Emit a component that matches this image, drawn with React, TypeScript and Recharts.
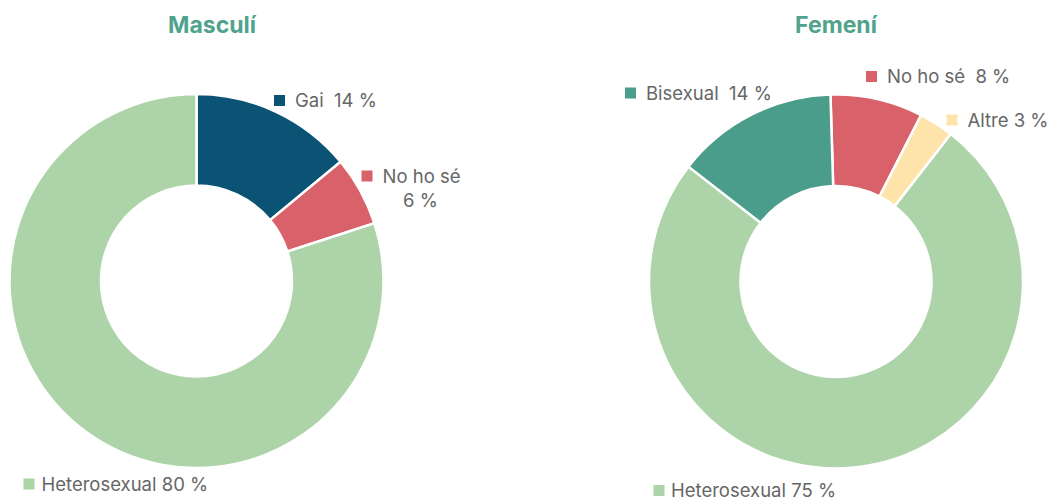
import { Cell, Pie, PieChart } from "recharts";

const MASC_CATEGORIES = ["Gai", "No ho sé", "Heterosexual"];
const MASC_VALUES = [14, 6, 80];

const FEM_CATEGORIES = ["No ho sé", "Altre", "Heterosexual", "Bisexual"];
const FEM_VALUES = [8, 3, 75, 14];

const COLORS: Record<string, string> = {
  Gai: "#0b5374",
  "No ho sé": "#d9626a",
  Heterosexual: "#acd4a8",
  Bisexual: "#4a9d8b",
  Altre: "#fee3aa",
};

const TITLE_COLOR = "#4fa38c";
const TEXT_COLOR = "#666666";
const FONT = "Inter, 'Noto Sans', sans-serif";

const W = 1053;
const H = 500;
const OUTER = 187;
const INNER = 95.5;

// where each label's marker sits, relative to the pie centre
type LabelSpot = { dx: number; dy: number; sep: string; gap: number; wrap?: boolean };
const MASC_LABELS: Record<string, LabelSpot> = {
  Gai: { dx: 77.5, dy: -186, sep: "  ", gap: 21 },
  "No ho sé": { dx: 165, dy: -110.5, sep: " ", gap: 21, wrap: true },
  Heterosexual: { dx: -173, dy: 197.5, sep: " ", gap: 18 },
};
const FEM_LABELS: Record<string, LabelSpot> = {
  "No ho sé": { dx: 30, dy: -210.5, sep: "  ", gap: 21 },
  Altre: { dx: 110.5, dy: -167, sep: " ", gap: 21 },
  Heterosexual: { dx: -182.5, dy: 203.5, sep: " ", gap: 17.5 },
  Bisexual: { dx: -211, dy: -194, sep: "  ", gap: 21 },
};

const toRows = (cats: string[], vals: number[]) => cats.map((name, i) => ({ name, value: vals[i] }));

function makeLabel(spots: Record<string, LabelSpot>) {
  return (props: any) => {
    const { cx, cy, name, value } = props;
    const spot = spots[name];
    if (!spot) return null;
    const x = cx + spot.dx;
    const y = cy + spot.dy;
    const textStyle = { whiteSpace: "pre" as const, fontFamily: FONT, fontSize: 18.5 };
    return (
      <g>
        <rect x={x} y={y} width={11} height={11} fill={COLORS[name]} />
        {spot.wrap ? (
          <text x={x + 60} y={y + 12.3} textAnchor="middle" fill={TEXT_COLOR} style={textStyle}>
            <tspan x={x + 60}>{name}</tspan>
            <tspan x={x + 59} dy={23.7}>{`${value} %`}</tspan>
          </text>
        ) : (
          <text x={x + spot.gap} y={y + 12.3} fill={TEXT_COLOR} style={textStyle}>
            {`${name}${spot.sep}${value} %`}
          </text>
        )}
      </g>
    );
  };
}

export default function App() {
  const masc = toRows(MASC_CATEGORIES, MASC_VALUES);
  const fem = toRows(FEM_CATEGORIES, FEM_VALUES);

  return (
    <div style={{ position: "absolute", left: 0, top: 0, width: W, height: H, background: "#fff" }}>
      <PieChart width={W} height={H} margin={{ top: 0, right: 0, bottom: 0, left: 0 }}>
        <Pie
          data={masc}
          dataKey="value"
          nameKey="name"
          cx={196.5}
          cy={281}
          innerRadius={INNER}
          outerRadius={OUTER}
          startAngle={90}
          endAngle={-270}
          stroke="#ffffff"
          strokeWidth={2.5}
          label={makeLabel(MASC_LABELS)}
          labelLine={false}
          isAnimationActive={false}
        >
          {masc.map((d) => (
            <Cell key={d.name} fill={COLORS[d.name]} />
          ))}
        </Pie>
        <Pie
          data={fem}
          dataKey="value"
          nameKey="name"
          cx={836}
          cy={281.5}
          innerRadius={INNER}
          outerRadius={OUTER}
          startAngle={91.7}
          endAngle={-268.3}
          stroke="#ffffff"
          strokeWidth={2.5}
          label={makeLabel(FEM_LABELS)}
          labelLine={false}
          isAnimationActive={false}
        >
          {fem.map((d) => (
            <Cell key={d.name} fill={COLORS[d.name]} />
          ))}
        </Pie>
      </PieChart>

      <svg width={W} height={60} style={{ position: "absolute", left: 0, top: 0, pointerEvents: "none" }}>
        <text x={212} y={33} textAnchor="middle" fill={TITLE_COLOR} fontFamily={FONT} fontSize={23} fontWeight={700}>
          Masculí
        </text>
        <text x={836} y={33} textAnchor="middle" fill={TITLE_COLOR} fontFamily={FONT} fontSize={23} fontWeight={700}>
          Femení
        </text>
      </svg>
    </div>
  );
}
